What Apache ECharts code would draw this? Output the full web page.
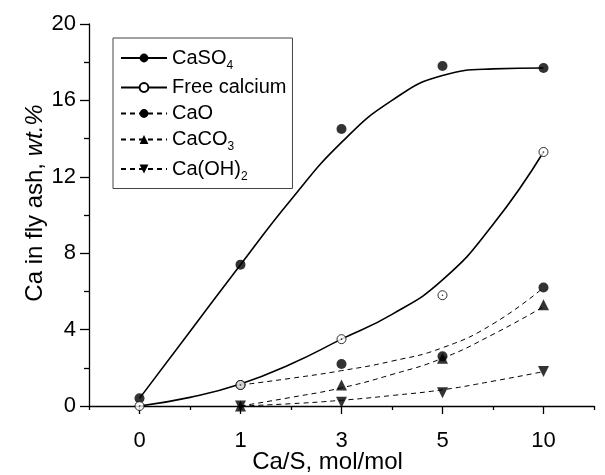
<!DOCTYPE html>
<html>
<head>
<meta charset="utf-8">
<script src="https://cdn.jsdelivr.net/npm/echarts@6/dist/echarts.min.js"></script>
<style>
  html, body { margin: 0; padding: 0; background: #fff; }
  #chart { width: 605px; height: 475px; }
</style>
</head>
<body>
<div id="chart"></div>
<script>
// Ca/S molar ratio categories (equally spaced on the axis)
const categories = ['0', '1', '3', '5', '10'];

// Measured calcium species in fly ash, wt.%
const caso4 = [0.4, 7.4, 14.5, 17.8, 17.7];
const freeCa = [0, 1.1, 3.5, 5.8, 13.3];
const cao = [null, 1.1, 2.2, 2.6, 6.2];
const caco3 = [null, 0, 1.1, 2.5, 5.3];
const caoh2 = [null, 0, 0.2, 0.7, 1.8];

// Fitted trend curves, sampled at whole and half category steps
const fitPos = [0, 0.5, 1, 1.5, 2, 2.5, 3, 3.5, 4];
const caso4Fit = [0.4, 3.9, 7.4, 10.8, 13.8, 16.0, 17.3, 17.65, 17.7];
const freeCaFit = [0, 0.45, 1.15, 2.2, 3.5, 4.8, 6.6, 9.5, 13.3];
const caoFit = [null, null, 1.1, 1.45, 1.85, 2.35, 3.05, 4.3, 6.2];
const caco3Fit = [null, null, 0, 0.45, 0.95, 1.65, 2.5, 3.75, 5.2];
const caoh2Fit = [null, null, 0, 0.12, 0.3, 0.55, 0.85, 1.3, 1.8];

// Y axis tick settings
const yMin = 0, yMax = 20, yStep = 4;

const FONT = "'Liberation Sans', Arial, Helvetica, sans-serif";
const BLACK = '#000';
const downTriangle = 'path://M0,0 L10,0 L5,10 Z';

const names = {
  caso4: 'CaSO4',
  free: 'Free calcium',
  cao: 'CaO',
  caco3: 'CaCO3',
  caoh2: 'Ca(OH)2'
};

function pairs(pos, vals) {
  return vals.map(function (v, i) { return v === null ? null : [pos[i], v]; })
             .filter(function (p) { return p !== null; });
}

function curve(name, vals, dashed, symbol, itemStyle) {
  return {
    name: name,
    type: 'line',
    xAxisIndex: 2,
    data: pairs(fitPos, vals),
    smooth: 0.5,
    showSymbol: false,
    symbol: symbol,
    lineStyle: { color: BLACK, width: dashed ? 1 : 1.6, type: dashed ? [5, 4] : 'solid' },
    itemStyle: itemStyle,
    emphasis: { disabled: true },
    z: 2
  };
}

function markers(name, data, symbol, size, itemStyle, z) {
  return {
    name: name,
    type: 'scatter',
    xAxisIndex: 0,
    data: data,
    symbol: symbol,
    symbolSize: size,
    itemStyle: itemStyle,
    clip: false,
    emphasis: { disabled: true },
    z: z
  };
}

const filled = { color: BLACK };
const open = { color: '#fff', borderColor: BLACK, borderWidth: 1 };

const legendRich = {
  m: { fontSize: 20, color: BLACK, fontFamily: FONT },
  s: { fontSize: 12, padding: [15, 0, 0, 0], color: BLACK, fontFamily: FONT }
};
const legendText = {
  'CaSO4': '{m|CaSO}{s|4}',
  'Free calcium': '{m|Free calcium}',
  'CaO': '{m|CaO}',
  'CaCO3': '{m|CaCO}{s|3}',
  'Ca(OH)2': '{m|Ca(OH)}{s|2}'
};

const option = {
  animation: false,
  backgroundColor: '#fff',
  textStyle: { fontFamily: FONT, color: BLACK },
  grid: { left: 89, right: 11, top: 24, bottom: 69, containLabel: false, outerBoundsMode: 'none' },
  legend: {
    orient: 'vertical',
    left: 113,
    top: 38,
    padding: [10, 6, 6, 7],
    itemWidth: 46,
    itemHeight: 11,
    itemGap: 6,
    borderColor: '#444',
    borderWidth: 1,
    selectedMode: false,
    data: [names.caso4, names.free, names.cao, names.caco3, names.caoh2],
    formatter: function (n) { return legendText[n]; },
    textStyle: { color: BLACK, fontFamily: FONT, fontSize: 20, rich: legendRich }
  },
  xAxis: [
    {
      type: 'category',
      data: categories,
      boundaryGap: true,
      position: 'bottom',
      name: 'Ca/S, mol/mol',
      nameLocation: 'middle',
      nameGap: 44,
      nameMoveOverlap: false,
      nameTextStyle: { fontSize: 24, color: BLACK, fontFamily: FONT, padding: [0, 28, 0, 0] },
      axisLine: { show: true, onZero: false, lineStyle: { color: BLACK, width: 1.3 } },
      axisTick: { show: true, alignWithLabel: true, inside: false, length: 8, lineStyle: { color: BLACK, width: 1.3 } },
      axisLabel: { show: true, margin: 24, fontSize: 22, color: BLACK, fontFamily: FONT },
      splitLine: { show: false }
    },
    {
      type: 'category',
      data: categories,
      boundaryGap: true,
      position: 'bottom',
      axisLine: { show: false, onZero: false },
      axisTick: { show: true, alignWithLabel: false, inside: false, length: 4, lineStyle: { color: BLACK, width: 1.3 } },
      axisLabel: { show: false },
      splitLine: { show: false }
    },
    {
      // continuous index scale used by the trend curves
      type: 'value',
      min: -0.5,
      max: 4.5,
      show: false,
      position: 'bottom',
      axisLine: { onZero: false }
    }
  ],
  yAxis: {
    type: 'value',
    min: yMin,
    max: yMax,
    interval: yStep,
    name: '{a|Ca in fly ash, }{b|wt.%}',
    nameLocation: 'middle',
    nameGap: 42,
    nameMoveOverlap: false,
    nameTextStyle: {
      padding: [0, 0, 0, 24],
      rich: {
        a: { fontSize: 24, color: BLACK, fontFamily: FONT },
        b: { fontSize: 24, color: BLACK, fontFamily: FONT, fontStyle: 'italic' }
      }
    },
    axisLine: { show: true, onZero: false, lineStyle: { color: BLACK, width: 1.3 } },
    axisTick: { show: true, inside: false, length: 9, lineStyle: { color: BLACK, width: 1.3 } },
    minorTick: { show: true, splitNumber: 2, length: 5, lineStyle: { color: BLACK, width: 1.3 } },
    axisLabel: { margin: 13, fontSize: 22, color: BLACK, fontFamily: FONT },
    splitLine: { show: false },
    minorSplitLine: { show: false }
  },
  series: [
    // trend curves (listed first so the legend icons come from them)
    curve(names.caso4, caso4Fit, false, 'circle', filled),
    curve(names.free, freeCaFit, false, 'circle', open),
    curve(names.cao, caoFit, true, 'circle', filled),
    curve(names.caco3, caco3Fit, true, 'triangle', filled),
    curve(names.caoh2, caoh2Fit, true, downTriangle, filled),
    // measured points
    markers(names.cao, cao, 'circle', 10, filled, 3),
    markers(names.caco3, caco3, 'triangle', 11, filled, 3),
    markers(names.caoh2, caoh2, downTriangle, 11, filled, 3),
    markers(names.caso4, caso4, 'circle', 10, filled, 4),
    markers(names.free, freeCa, 'circle', 9, open, 5),
    markers(names.free, freeCa, 'circle', 1.6, filled, 6)
  ]
};

const chart = echarts.init(document.getElementById('chart'), null, { renderer: 'canvas' });
chart.setOption(option);
</script>
</body>
</html>
